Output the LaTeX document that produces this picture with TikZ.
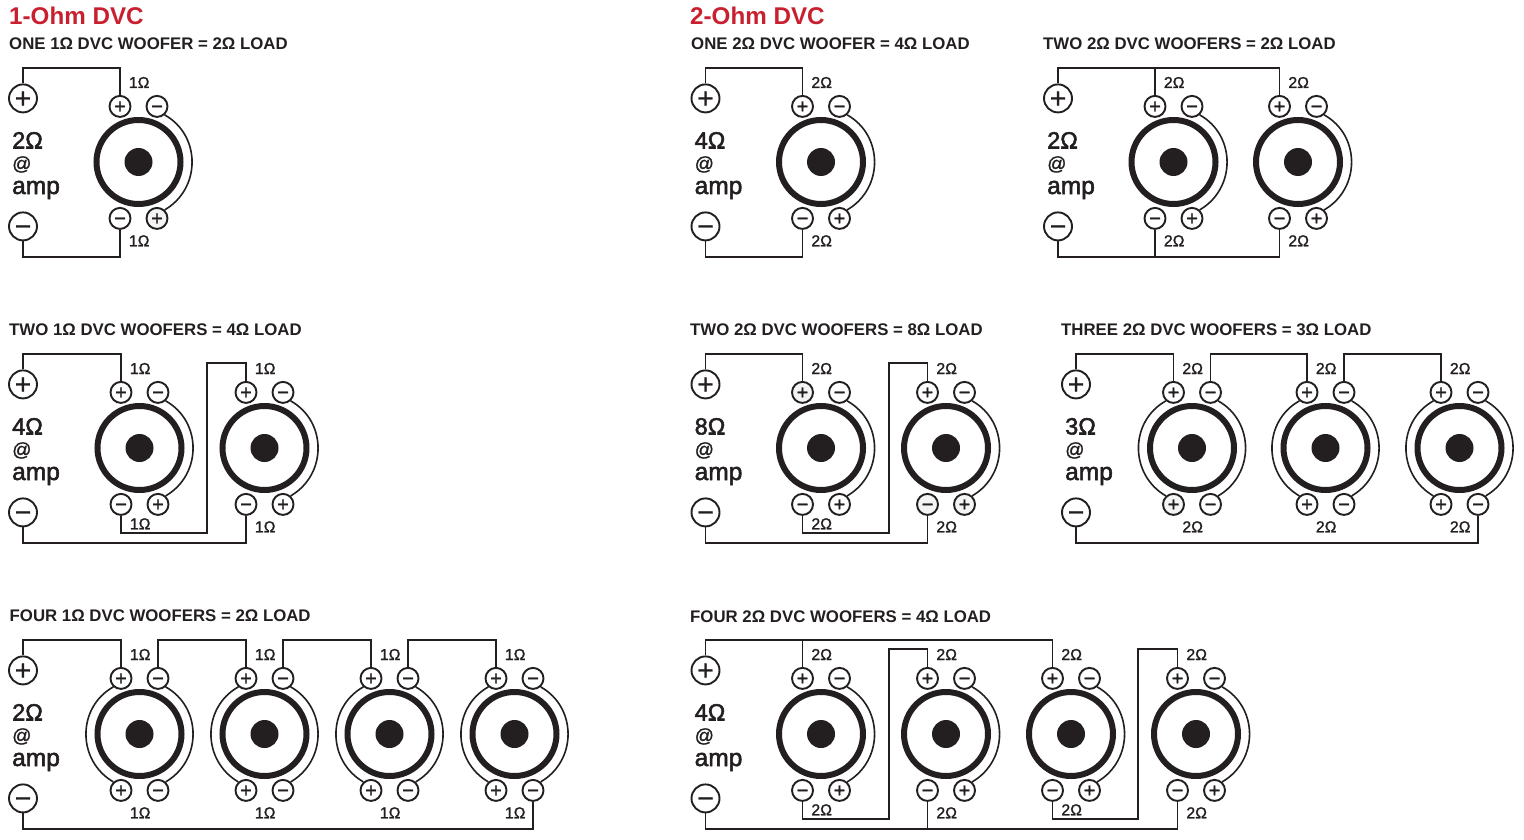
\documentclass[tikz,border=0pt]{standalone}
\usepackage{fontspec}
\setmainfont{Liberation Sans}
\newfontfamily\semibf[FakeBold=1.4]{Liberation Sans}
\newfontfamily\strongbf[FakeBold=2.2]{Liberation Sans}
\definecolor{ink}{HTML}{231F20}
\definecolor{headred}{HTML}{C8202F}
\definecolor{softgrey}{HTML}{F4F4F4}
\newcommand{\sgn}[1]{\raisebox{-0.335em}[0pt][0pt]{#1}}
\tikzset{
  wire/.style={draw=ink,line width=1.9pt,line join=miter},
  coil/.style={draw=ink,line width=1.6pt},
  termnode/.style={circle,draw=ink,fill=white,line width=1.9pt,minimum size=21pt,inner sep=0pt,font=\fontsize{20}{20}\semibf,text=ink},
  ampnode/.style={circle,draw=ink,fill=white,line width=1.9pt,minimum size=28pt,inner sep=0pt,font=\fontsize{28}{28}\semibf,text=ink},
  ringnode/.style={circle,draw=ink,fill=white,line width=6pt,minimum size=84pt,inner sep=0pt},
  hubnode/.style={circle,fill=ink,minimum size=28pt,inner sep=0pt},
  titletext/.style={anchor=base west,inner sep=0pt,text=ink,font=\fontsize{16.8}{16.8}\selectfont\bfseries},
  headtext/.style={anchor=base west,inner sep=0pt,text=headred,font=\fontsize{24.2}{24.2}\selectfont\bfseries},
  ohmtext/.style={anchor=base,inner sep=0pt,text=ink,font=\fontsize{15.8}{15.8}\semibf},
  amptext/.style={anchor=base west,inner sep=0pt,text=ink,font=\fontsize{24.5}{24.5}\strongbf},
  loadtext/.style={anchor=base west,inner sep=0pt,text=ink,font=\fontsize{23.5}{23.5}\strongbf},
  attext/.style={anchor=base west,inner sep=0pt,text=ink,font=\fontsize{19}{19}\semibf},
  w1-bp/.style={fill=softgrey},
  w6a-tp/.style={fill=softgrey},
  w6b-bp/.style={fill=softgrey},
  w6b-bm/.style={fill=softgrey},
  w7a-bp/.style={fill=softgrey},
}
% id, cx, cy, label, bottom label baseline offset
\newcommand{\wooferbase}[5]{%
  \node[ringnode] (#1) at (#2,#3) {};
  \node[hubnode] (#1-hub) at (#2,#3) {};
  \node[ohmtext] (#1-lt) at (#2+0.7,#3-74) {#4};
  \node[ohmtext] (#1-lb) at (#2+0.7,#3+#5-0.7) {#4};
}
\newcommand{\wooferR}[5]{% right coil only: bottom - then +
  \wooferbase{#1}{#2}{#3}{#4}{#5}
  \node[termnode,#1-tp/.try] (#1-tp) at (#2-18.5,#3-55.6) {\sgn{+}};
  \node[termnode,#1-tm/.try] (#1-tm) at (#2+18.5,#3-55.6) {\sgn{−}};
  \node[termnode,#1-bm/.try] (#1-bm) at (#2-18.5,#3+56.4) {\sgn{−}};
  \node[termnode,#1-bp/.try] (#1-bp) at (#2+18.5,#3+56.4) {\sgn{+}};
  \draw[coil] (#1-tm.-48) .. controls (#2+62.7,#3-26.6) and (#2+62.7,#3+26.6) .. (#1-bp.48);
}
\newcommand{\wooferB}[5]{% both coils: bottom + then -
  \wooferbase{#1}{#2}{#3}{#4}{#5}
  \node[termnode,#1-tp/.try] (#1-tp) at (#2-18.5,#3-55.6) {\sgn{+}};
  \node[termnode,#1-tm/.try] (#1-tm) at (#2+18.5,#3-55.6) {\sgn{−}};
  \node[termnode,#1-bp/.try] (#1-bp) at (#2-18.5,#3+56.4) {\sgn{+}};
  \node[termnode,#1-bm/.try] (#1-bm) at (#2+18.5,#3+56.4) {\sgn{−}};
  \draw[coil] (#1-tm.-48) .. controls (#2+62.7,#3-26.6) and (#2+62.7,#3+26.6) .. (#1-bm.48);
  \draw[coil] (#1-tp.-132) .. controls (#2-62.7,#3-26.6) and (#2-62.7,#3+26.6) .. (#1-bp.132);
}
% id, x, cy, load label
\newcommand{\ampblock}[4]{%
  \node[ampnode] (#1-p) at (#2,#3-63.6) {\sgn{+}};
  \node[ampnode] (#1-m) at (#2,#3+64.4) {\sgn{−}};
  \node[loadtext] (#1-a) at (#2-11,#3-13.5) {#4};
  \node[attext] (#1-b) at (#2-11,#3+8) {@};
  \node[amptext] (#1-c) at (#2-11,#3+32) {amp};
}
\newcommand{\ortho}[3]{\draw[wire] (#1) -- (#1 |- 0,#2) -- (#3 |- 0,#2) -- (#3);}
\newcommand{\stub}[2]{\draw[wire] (#1) -- (#1 |- 0,#2);}
\newcommand{\zig}[5]{\draw[wire] (#1) -- (#1 |- 0,#2) -- (#3,#2) -- (#3,#4) -- (#5 |- 0,#4) -- (#5);}
\begin{document}
\begin{tikzpicture}[x=1pt,y=-1pt]
\useasboundingbox (0,0) rectangle (1524,840);
\node[headtext] (h1) at (9,25) {1-Ohm DVC};
\node[headtext] (h2) at (690,25) {2-Ohm DVC};

% --- one 1 ohm
\node[titletext] (t1) at (9,49.5) {ONE 1Ω DVC WOOFER = 2Ω LOAD};
\ampblock{a1}{23}{162}{2Ω}
\wooferR{w1}{138.5}{162}{1Ω}{85}
\ortho{a1-p.north}{68}{w1-tp.north}
\ortho{a1-m.south}{257}{w1-bm.south}

% --- two 1 ohm
\node[titletext] (t2) at (9,335.5) {TWO 1Ω DVC WOOFERS = 4Ω LOAD};
\ampblock{a2}{23}{448}{4Ω}
\wooferR{w2a}{139.5}{448}{1Ω}{82}
\wooferR{w2b}{264.5}{448}{1Ω}{85}
\ortho{a2-p.north}{354}{w2a-tp.north}
\zig{w2a-bm.south}{533}{207}{363}{w2b-tp.north}
\ortho{a2-m.south}{543}{w2b-bm.south}

% --- four 1 ohm
\node[titletext] (t3) at (9.5,621.5) {FOUR 1Ω DVC WOOFERS = 2Ω LOAD};
\ampblock{a3}{23}{734}{2Ω}
\wooferB{w3a}{139.5}{734}{1Ω}{85}
\wooferB{w3b}{264.5}{734}{1Ω}{85}
\wooferB{w3c}{389.5}{734}{1Ω}{85}
\wooferB{w3d}{514.5}{734}{1Ω}{85}
\ortho{a3-p.north}{640}{w3a-tp.north}
\ortho{w3a-tm.north}{640}{w3b-tp.north}
\ortho{w3b-tm.north}{640}{w3c-tp.north}
\ortho{w3c-tm.north}{640}{w3d-tp.north}
\ortho{a3-m.south}{829}{w3d-bm.south}

% --- one 2 ohm
\node[titletext] (t4) at (691,49.5) {ONE 2Ω DVC WOOFER = 4Ω LOAD};
\ampblock{a4}{705.5}{162}{4Ω}
\wooferR{w4}{821}{162}{2Ω}{85}
\ortho{a4-p.north}{68}{w4-tp.north}
\ortho{a4-m.south}{257}{w4-bm.south}

% --- two 2 ohm parallel
\node[titletext] (t5) at (1043,49.5) {TWO 2Ω DVC WOOFERS = 2Ω LOAD};
\ampblock{a5}{1058}{162}{2Ω}
\wooferR{w5a}{1173.5}{162}{2Ω}{85}
\wooferR{w5b}{1298}{162}{2Ω}{85}
\ortho{a5-p.north}{68}{w5b-tp.north}
\stub{w5a-tp.north}{68}
\ortho{a5-m.south}{257}{w5b-bm.south}
\stub{w5a-bm.south}{257}

% --- two 2 ohm series
\node[titletext] (t6) at (690,335.5) {TWO 2Ω DVC WOOFERS = 8Ω LOAD};
\ampblock{a6}{705.5}{448}{8Ω}
\wooferR{w6a}{821}{448}{2Ω}{82}
\wooferR{w6b}{946}{448}{2Ω}{85}
\ortho{a6-p.north}{354}{w6a-tp.north}
\zig{w6a-bm.south}{533}{889}{363}{w6b-tp.north}
\ortho{a6-m.south}{543}{w6b-bm.south}

% --- three 2 ohm
\node[titletext] (t7) at (1061,335.5) {THREE 2Ω DVC WOOFERS = 3Ω LOAD};
\ampblock{a7}{1076}{448}{3Ω}
\wooferB{w7a}{1192}{448}{2Ω}{85}
\wooferB{w7b}{1325.5}{448}{2Ω}{85}
\wooferB{w7c}{1459.5}{448}{2Ω}{85}
\ortho{a7-p.north}{354}{w7a-tp.north}
\ortho{w7a-tm.north}{354}{w7b-tp.north}
\ortho{w7b-tm.north}{354}{w7c-tp.north}
\ortho{a7-m.south}{543}{w7c-bm.south}

% --- four 2 ohm
\node[titletext] (t8) at (690,622.5) {FOUR 2Ω DVC WOOFERS = 4Ω LOAD};
\ampblock{a8}{705.5}{734}{4Ω}
\wooferR{w8a}{821}{734}{2Ω}{82}
\wooferR{w8b}{946}{734}{2Ω}{85}
\wooferR{w8c}{1071}{734}{2Ω}{82}
\wooferR{w8d}{1196}{734}{2Ω}{85}
\ortho{a8-p.north}{640}{w8c-tp.north}
\stub{w8a-tp.north}{640}
\zig{w8a-bm.south}{819}{889}{649}{w8b-tp.north}
\zig{w8c-bm.south}{819}{1138}{649}{w8d-tp.north}
\ortho{a8-m.south}{829}{w8d-bm.south}
\stub{w8b-bm.south}{829}
\end{tikzpicture}
\end{document}
